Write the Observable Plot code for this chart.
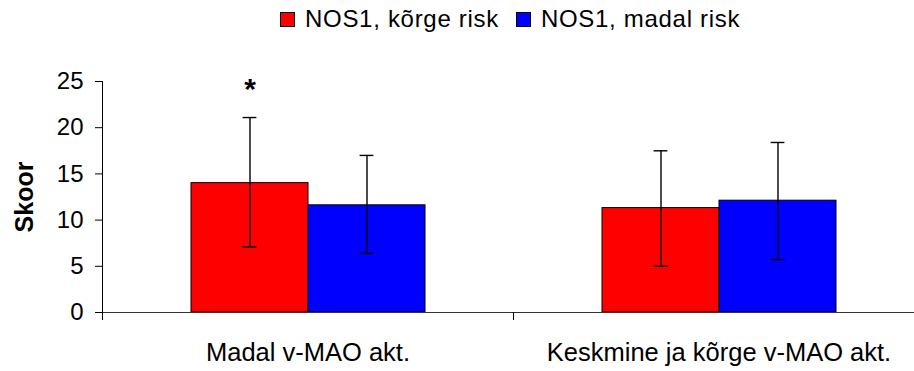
<!DOCTYPE html>
<html>
<head>
<meta charset="utf-8">
<script src="https://cdn.jsdelivr.net/npm/d3@7"></script>
<script src="https://cdn.jsdelivr.net/npm/@observablehq/plot@0.6"></script>
<style>
  html, body { margin: 0; padding: 0; background: #fff; }
  body { width: 914px; height: 371px; overflow: hidden; font-family: Arial, "Liberation Sans", sans-serif; }
  #legend { box-sizing: border-box; height: 40px; padding-top: 7px; padding-left: 280px; display: flex; align-items: baseline; white-space: nowrap; }
  #legend .sw { display: inline-block; width: 15px; height: 15px; box-sizing: border-box; border: 1px solid #000; }
  #legend .lb { font-size: 24px; line-height: 24px; letter-spacing: 0.7px; margin-left: 10px; margin-right: 17px; color: #000; }
</style>
</head>
<body>
<div id="legend"></div>
<div id="chart"></div>
<script>
const categories = ["Madal v-MAO akt.", "Keskmine ja kõrge v-MAO akt."];
const series = ["NOS1, kõrge risk", "NOS1, madal risk"];
const colors = ["#FF0000", "#0000FF"];
const means = [[14.0, 11.6], [11.3, 12.1]];
const lows  = [[7.1, 6.4], [5.0, 5.7]];
const highs = [[21.1, 17.0], [17.5, 18.4]];
const yTicks = [0, 5, 10, 15, 20, 25];
const yLabel = "Skoor";
const marksText = [{cat: categories[0], s: series[0], y: 24.2, text: "*"}];

const data = [];
categories.forEach((c, i) => series.forEach((s, j) => {
  data.push({cat: c, s, mean: means[i][j], lo: lows[i][j], hi: highs[i][j]});
}));

// legend
const leg = document.getElementById("legend");
series.forEach((s, j) => {
  const sw = document.createElement("span");
  sw.className = "sw"; sw.style.background = colors[j];
  const lb = document.createElement("span");
  lb.className = "lb"; lb.textContent = s;
  leg.appendChild(sw); leg.appendChild(lb);
});

const chart = Plot.plot({
  width: 914,
  height: 331,
  marginLeft: 102,
  marginRight: -10,
  marginTop: 41,
  marginBottom: 59,
  style: {fontFamily: "Arial, 'Liberation Sans', sans-serif", fontSize: "24px", color: "#000", background: "#fff"},
  fx: {domain: categories, padding: 0},
  x: {domain: series, paddingInner: 0, paddingOuter: 0.749, axis: null},
  y: {domain: [0, 25], ticks: yTicks, tickSize: 7, tickPadding: 12, line: true, label: null},
  color: {domain: series, range: colors},
  marks: [
    Plot.barY(data, {fx: "cat", x: "s", y: "mean", fill: "s", stroke: "#000", strokeWidth: 1}),
    Plot.ruleX(data, {fx: "cat", x: "s", y1: "lo", y2: "hi", stroke: "#000", strokeWidth: 1.4}),
    Plot.tickY(data, {fx: "cat", x: "s", y: "lo", stroke: "#000", strokeWidth: 1.4, insetLeft: 51.6, insetRight: 51.6}),
    Plot.tickY(data, {fx: "cat", x: "s", y: "hi", stroke: "#000", strokeWidth: 1.4, insetLeft: 51.6, insetRight: 51.6}),
    Plot.ruleY([0], {stroke: "#333", strokeWidth: 1}),
    Plot.frame({anchor: "left", insetTop: 231, insetBottom: -7, stroke: "#000"}),
    Plot.text(marksText, {fx: "cat", x: "s", y: "y", text: "text", fontSize: 30, fontWeight: "bold", lineAnchor: "middle"}),
    Plot.text([yLabel], {fx: () => categories[0], frameAnchor: "left", rotate: -90, dx: -78, text: d => d, fontSize: 25, fontWeight: "bold", textAnchor: "middle", lineAnchor: "middle"}),
    Plot.axisFx({anchor: "bottom", tickSize: 0, tickPadding: 30, fontSize: 25.5, label: null})
  ]
});
document.getElementById("chart").appendChild(chart);
</script>
</body>
</html>
